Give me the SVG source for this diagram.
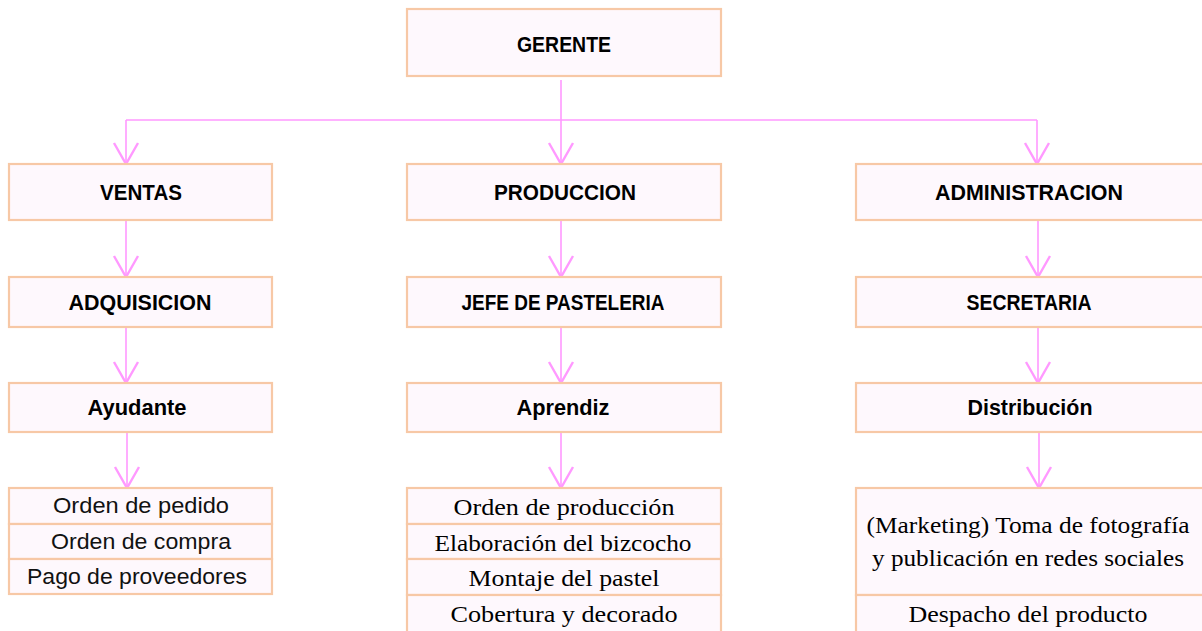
<svg xmlns="http://www.w3.org/2000/svg" width="1202" height="631" viewBox="0 0 1202 631">
<style>
.box{fill:#fef8fd;stroke:#f7c8a6;stroke-width:2.2}
.h{font-family:"Liberation Sans",Arial,sans-serif;font-weight:bold;font-size:22px;fill:#000;text-anchor:middle}
.s{font-family:"Liberation Sans",Arial,sans-serif;font-size:22px;fill:#111;text-anchor:middle}
.t{font-family:"Liberation Serif","Times New Roman",serif;font-size:24px;fill:#000;text-anchor:middle}
.c{fill:none;stroke:#ff99ff;stroke-width:1.6}
</style>
<defs>
<marker id="arr" markerUnits="userSpaceOnUse" markerWidth="30" markerHeight="30" refX="0" refY="0" orient="auto" viewBox="-16 -10 18 20" overflow="visible">
<path d="M-14,-8 L0,0 L-14,8" fill="none" stroke="#ff99ff" stroke-width="1.6"/>
</marker>
</defs>
<rect width="1202" height="631" fill="#ffffff"/>
<g id="connectors">
<path class="c" d="M126,120 H1037"/>
<path class="c" d="M561,80 V164" marker-end="url(#arr)"/>
<path class="c" d="M126,120 V164" marker-end="url(#arr)"/>
<path class="c" d="M1037,120 V164" marker-end="url(#arr)"/>
<path class="c" d="M126,221 V277" marker-end="url(#arr)"/>
<path class="c" d="M561,221 V277" marker-end="url(#arr)"/>
<path class="c" d="M1038,221 V277" marker-end="url(#arr)"/>
<path class="c" d="M126,327 V383" marker-end="url(#arr)"/>
<path class="c" d="M561,327 V383" marker-end="url(#arr)"/>
<path class="c" d="M1038,327 V383" marker-end="url(#arr)"/>
<path class="c" d="M127,433 V488" marker-end="url(#arr)"/>
<path class="c" d="M561,433 V488" marker-end="url(#arr)"/>
<path class="c" d="M1039,433 V488" marker-end="url(#arr)"/>
</g>
<g id="gerente"><rect class="box" x="407" y="9" width="314" height="67"/><text class="h" x="564" y="52" textLength="94" lengthAdjust="spacingAndGlyphs">GERENTE</text></g>
<g id="ventas"><rect class="box" x="9" y="164" width="263" height="56"/><text class="h" x="141" y="200" textLength="82" lengthAdjust="spacingAndGlyphs">VENTAS</text></g>
<g id="produccion"><rect class="box" x="407" y="164" width="314" height="56"/><text class="h" x="565" y="200" textLength="142" lengthAdjust="spacingAndGlyphs">PRODUCCION</text></g>
<g id="administracion"><rect class="box" x="856" y="164" width="352" height="56"/><text class="h" x="1029" y="200" textLength="188" lengthAdjust="spacingAndGlyphs">ADMINISTRACION</text></g>
<g id="adquisicion"><rect class="box" x="9" y="277" width="263" height="50"/><text class="h" x="140" y="310" textLength="143" lengthAdjust="spacingAndGlyphs">ADQUISICION</text></g>
<g id="jefe"><rect class="box" x="407" y="277" width="314" height="50"/><text class="h" x="563" y="310" textLength="203" lengthAdjust="spacingAndGlyphs">JEFE DE PASTELERIA</text></g>
<g id="secretaria"><rect class="box" x="856" y="277" width="352" height="50"/><text class="h" x="1029" y="310" textLength="125" lengthAdjust="spacingAndGlyphs">SECRETARIA</text></g>
<g id="ayudante"><rect class="box" x="9" y="383" width="263" height="49"/><text class="h" x="137" y="415" textLength="99" lengthAdjust="spacingAndGlyphs">Ayudante</text></g>
<g id="aprendiz"><rect class="box" x="407" y="383" width="314" height="49"/><text class="h" x="563" y="415" textLength="93" lengthAdjust="spacingAndGlyphs">Aprendiz</text></g>
<g id="distribucion"><rect class="box" x="856" y="383" width="352" height="49"/><text class="h" x="1030" y="415" textLength="125" lengthAdjust="spacingAndGlyphs">Distribución</text></g>
<g id="tareas-ventas">
<rect class="box" x="9" y="488" width="263" height="36"/>
<rect class="box" x="9" y="524" width="263" height="35"/>
<rect class="box" x="9" y="559" width="263" height="35"/>
<text class="s" x="141" y="513" textLength="176" lengthAdjust="spacingAndGlyphs">Orden de pedido</text>
<text class="s" x="141" y="549" textLength="180" lengthAdjust="spacingAndGlyphs">Orden de compra</text>
<text class="s" x="137" y="584" textLength="220" lengthAdjust="spacingAndGlyphs">Pago de proveedores</text>
</g>
<g id="tareas-produccion">
<rect class="box" x="407" y="488" width="314" height="36"/>
<rect class="box" x="407" y="524" width="314" height="35"/>
<rect class="box" x="407" y="559" width="314" height="36"/>
<rect class="box" x="407" y="595" width="314" height="40"/>
<text class="t" x="564" y="515" textLength="221" lengthAdjust="spacingAndGlyphs">Orden de producción</text>
<text class="t" x="563" y="551" textLength="257" lengthAdjust="spacingAndGlyphs">Elaboración del bizcocho</text>
<text class="t" x="564" y="586" textLength="191" lengthAdjust="spacingAndGlyphs">Montaje del pastel</text>
<text class="t" x="564" y="622" textLength="227" lengthAdjust="spacingAndGlyphs">Cobertura y decorado</text>
</g>
<g id="tareas-administracion">
<rect class="box" x="856" y="488" width="352" height="107"/>
<rect class="box" x="856" y="595" width="352" height="40"/>
<text class="t" x="1028" y="533" textLength="323" lengthAdjust="spacingAndGlyphs">(Marketing) Toma de fotografía</text>
<text class="t" x="1028" y="566" textLength="312" lengthAdjust="spacingAndGlyphs">y publicación en redes sociales</text>
<text class="t" x="1028" y="622" textLength="239" lengthAdjust="spacingAndGlyphs">Despacho del producto</text>
</g>
</svg>
